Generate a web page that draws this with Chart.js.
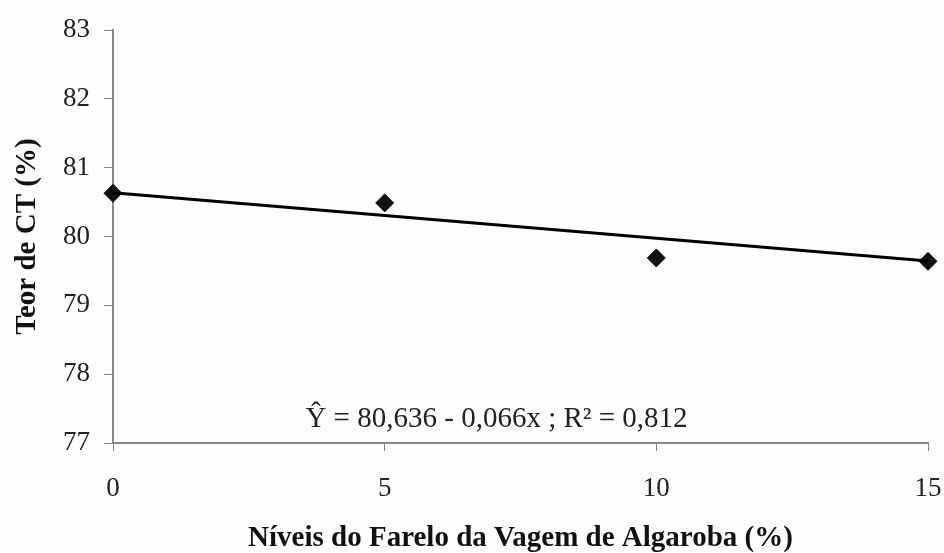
<!DOCTYPE html>
<html lang="pt">
<head>
<meta charset="UTF-8">
<title>Teor de CT</title>
<script src="https://cdn.jsdelivr.net/npm/chart.js"></script>
<style>
  html, body { margin: 0; padding: 0; background: #fdfdfd; }
  #wrap { width: 944px; height: 553px; position: relative; }
</style>
</head>
<body>
<div id="wrap"><canvas id="chart" width="944" height="553"></canvas></div>
<script>
// dados
var niveis = [0, 5, 10, 15];
var teorCT = [80.63, 80.49, 79.69, 79.64];
// reta de regressão (extremos)
var retaX = [0, 15];
var retaY = [80.636, 79.646];
var yTicks = [77, 78, 79, 80, 81, 82, 83];
var xTicks = [0, 5, 10, 15];
var equacao = 'Ŷ = 80,636 - 0,066x ; R² = 0,812';

var fonte = '"Liberation Serif", "Times New Roman", serif';

var textoEquacao = {
    id: 'textoEquacao',
    afterDraw: function (chart) {
        var c = chart.ctx;
        var xs = chart.scales.x, ys = chart.scales.y;
        c.save();
        c.font = '29px ' + fonte;
        c.fillStyle = '#222';
        c.textAlign = 'center';
        c.textBaseline = 'middle';
        c.fillText(equacao, (xs.left + xs.right) / 2 - 24, ys.bottom - 24);
        c.restore();
    }
};

var ctx = document.getElementById('chart').getContext('2d');
new Chart(ctx, {
    type: 'scatter',
    data: {
        datasets: [{
            label: 'Reta',
            data: retaX.map(function (x, i) { return { x: x, y: retaY[i] }; }),
            showLine: true,
            borderColor: '#000',
            borderWidth: 3,
            pointRadius: 0,
            clip: false
        }, {
            label: 'Teor de CT',
            data: niveis.map(function (x, i) { return { x: x, y: teorCT[i] }; }),
            pointStyle: 'rectRot',
            pointRadius: 9,
            backgroundColor: '#111',
            borderColor: '#111',
            borderWidth: 1,
            clip: false
        }]
    },
    options: {
        responsive: false,
        animation: false,
        layout: { padding: { top: 29, right: 16, bottom: 0, left: 0 } },
        plugins: { legend: { display: false }, tooltip: { enabled: false } },
        scales: {
            x: {
                type: 'linear', min: 0, max: 15,
                afterBuildTicks: function (s) { s.ticks = xTicks.map(function (v) { return { value: v }; }); },
                afterFit: function (s) { s.height = 110; s.paddingLeft = 0; s.paddingRight = 0; },
                grid: { drawOnChartArea: false, drawTicks: true, tickLength: 8, color: '#888' },
                border: { color: '#888', width: 2 },
                ticks: { color: '#222', font: { family: fonte, size: 27 }, padding: 22 },
                title: { display: true, text: 'Níveis do Farelo da Vagem de Algaroba (%)', color: '#111',
                         font: { family: fonte, size: 29, weight: 'bold' }, padding: { top: 0, bottom: -3 } }
            },
            y: {
                min: 77, max: 83,
                afterBuildTicks: function (s) { s.ticks = yTicks.map(function (v) { return { value: v }; }); },
                afterFit: function (s) { s.width = 113; },
                grid: { drawOnChartArea: false, drawTicks: true, tickLength: 9, color: '#888' },
                border: { color: '#888', width: 2 },
                ticks: { color: '#222', font: { family: fonte, size: 27 }, padding: 14 },
                title: { display: true, text: 'Teor de CT (%)', color: '#111',
                         font: { family: fonte, size: 29, weight: 'bold' }, padding: { top: 10, bottom: 0 } }
            }
        }
    },
    plugins: [textoEquacao]
});
</script>
</body>
</html>
